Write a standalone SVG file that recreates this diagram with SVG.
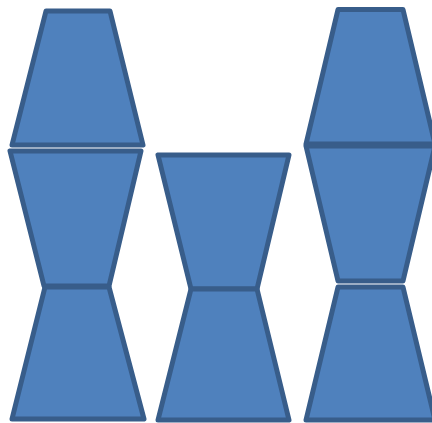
<svg xmlns="http://www.w3.org/2000/svg" width="432" height="423" viewBox="0 0 432 423">
<style>
.t{fill:#4F81BD;stroke:#385D8A;stroke-width:5;stroke-linejoin:round}
</style>
<rect width="432" height="423" fill="#FFFFFF"/>
<g id="a"><polygon class="t" points="46,11 110,11 143,145 12,145"/></g>
<g id="b"><polygon class="t" points="10,151 141,151 109,286 44,286"/></g>
<g id="c"><polygon class="t" points="45,287 109,287 144,419 12,419"/></g>
<g id="d"><polygon class="t" points="158,155 289,155 257,289 191,289"/></g>
<g id="e"><polygon class="t" points="191,289 257,289 289,420 158,420"/></g>
<g id="f"><polygon class="t" points="338,9.5 403,9.5 435,144 306,144"/></g>
<g id="g"><polygon class="t" points="306,146 435,146 403,281 338,281"/></g>
<g id="h"><polygon class="t" points="338,287 403,287 435,420 306,420"/></g>
<g id="connectors"></g>
</svg>
